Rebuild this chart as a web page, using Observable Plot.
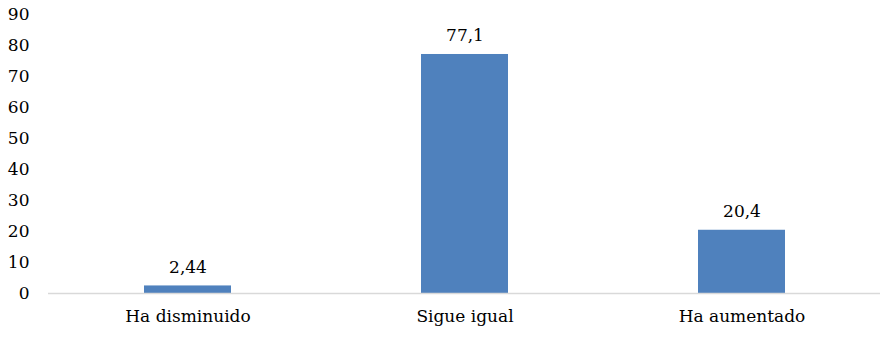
<!DOCTYPE html>
<html>
<head>
<meta charset="utf-8">
<script src="https://cdn.jsdelivr.net/npm/d3@7"></script>
<script src="https://cdn.jsdelivr.net/npm/@observablehq/plot@0.6"></script>
<style>
  html, body { margin: 0; padding: 0; background: #fff; }
  #chart svg { display: block; }
</style>
</head>
<body>
<div id="chart"></div>
<script>
const categories = ["Ha disminuido", "Sigue igual", "Ha aumentado"];
const values = [2.44, 77.1, 20.4];
const valueLabels = ["2,44", "77,1", "20,4"];
const yTicks = [0, 10, 20, 30, 40, 50, 60, 70, 80, 90];

const data = categories.map((c, i) => ({cat: c, value: values[i], label: valueLabels[i]}));

const chart = Plot.plot({
  width: 883,
  height: 341,
  marginLeft: 48,
  marginRight: 3,
  marginTop: 14,
  marginBottom: 48,
  style: {fontFamily: "'DejaVu Serif', serif", fontSize: "17px", color: "#000", background: "#fff"},
  x: {domain: categories, paddingInner: 0.686, paddingOuter: 0.343, label: null, tickSize: 0, tickPadding: 16},
  y: {domain: [0, 90], ticks: yTicks, label: null, tickSize: 0, tickPadding: 19},
  marks: [
    Plot.barY(data, {x: "cat", y: "value", fill: "#4f81bd"}),
    Plot.ruleY([0], {stroke: "#d9d9d9", strokeWidth: 1.5}),
    Plot.text(data, {x: "cat", y: "value", text: "label", dy: -13, lineAnchor: "bottom", fontSize: 17, fill: "#000"})
  ]
});
document.getElementById("chart").appendChild(chart);
</script>
</body>
</html>
